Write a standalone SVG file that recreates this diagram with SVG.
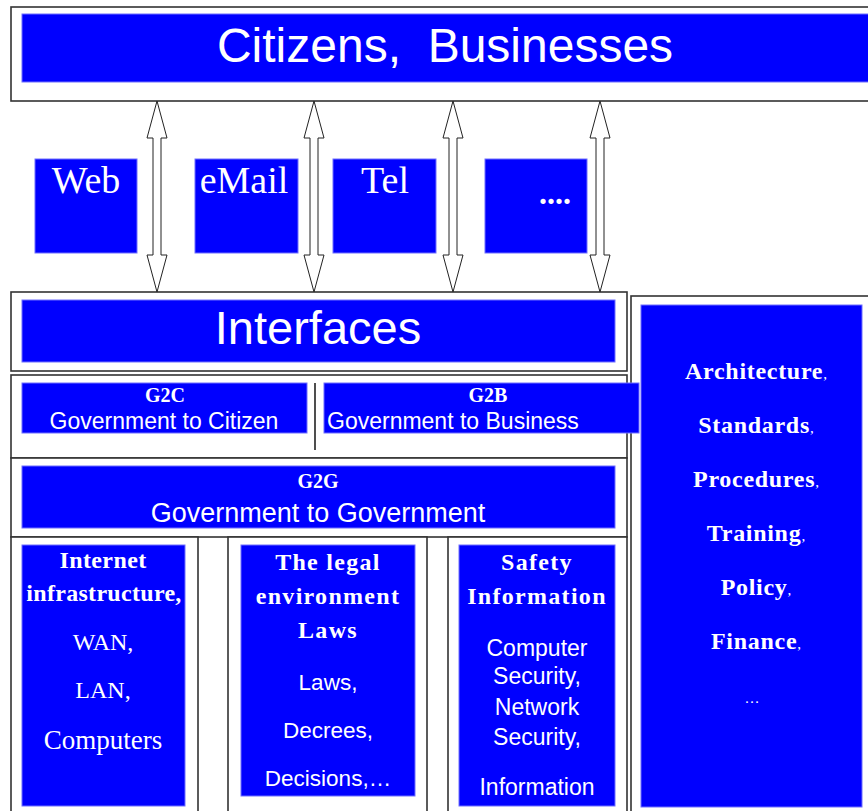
<svg xmlns="http://www.w3.org/2000/svg" xmlns:xlink="http://www.w3.org/1999/xlink" width="868" height="811" viewBox="0 0 868 811">
  <style>
    .frame { fill: #ffffff; stroke: #333333; stroke-width: 1.6; }
    .blue { fill: #0000ff; stroke: #6f6fff; stroke-width: 1; }
    .sans { font-family: "Liberation Sans", Arial, sans-serif; fill: #ffffff; text-anchor: middle; }
    .serif { font-family: "Liberation Serif", "Times New Roman", serif; fill: #ffffff; text-anchor: middle; }
    .bold { font-weight: bold; }
    .start { text-anchor: start; }
    .comma { font-weight: normal; font-size: 15px; letter-spacing: 0; }
    .arrow { fill: #ffffff; stroke: #222222; stroke-width: 1; }
  </style>
  <defs>
    <!-- hollow double-headed arrow, tip-to-tip from y=101 to y=292 -->
    <path id="dbl" d="M0,101 L10,138 L4,138 L4,255 L10,255 L0,292 L-10,255 L-4,255 L-4,138 L-10,138 Z"/>
  </defs>

  <rect width="868" height="811" fill="#ffffff"/>

  <g id="citizens">
    <rect class="frame" x="11" y="7" width="880" height="94"/>
    <rect class="blue" x="22" y="14" width="870" height="68"/>
    <text class="sans" x="445" y="62" font-size="48" xml:space="preserve">Citizens,  Businesses</text>
  </g>

  <g id="web">
    <rect class="blue" x="35" y="159" width="102" height="94"/>
    <text class="serif" x="86" y="193" font-size="38">Web</text>
  </g>
  <g id="email">
    <rect class="blue" x="195" y="159" width="103" height="94"/>
    <text class="serif" x="244" y="193" font-size="38">eMail</text>
  </g>
  <g id="tel">
    <rect class="blue" x="333" y="159" width="103" height="94"/>
    <text class="serif" x="385" y="193" font-size="38">Tel</text>
  </g>
  <g id="other-channels">
    <rect class="blue" x="485" y="159" width="102" height="94"/>
    <text class="serif bold" x="555" y="204" font-size="32">....</text>
  </g>

  <g id="interfaces">
    <rect class="frame" x="11" y="292" width="616" height="79"/>
    <rect class="blue" x="22" y="300" width="593" height="62"/>
    <text class="sans" x="318" y="344" font-size="47">Interfaces</text>
  </g>

  <g id="support">
    <rect class="frame" x="631" y="296" width="260" height="530"/>
    <rect class="blue" x="641" y="305" width="221" height="502"/>
    <g class="serif bold" font-size="24" letter-spacing="0.7">
      <text x="756" y="379">Architecture<tspan class="comma">,</tspan></text>
      <text x="756" y="433">Standards<tspan class="comma">,</tspan></text>
      <text x="756" y="487">Procedures<tspan class="comma">,</tspan></text>
      <text x="756" y="541">Training<tspan class="comma">,</tspan></text>
      <text x="756" y="595">Policy<tspan class="comma">,</tspan></text>
      <text x="756" y="649">Finance<tspan class="comma">,</tspan></text>
      <text x="752" y="703" font-weight="normal" font-size="15" letter-spacing="0">…</text>
    </g>
  </g>

  <g id="g2c-g2b">
    <rect class="frame" x="11" y="375" width="616" height="83"/>
    <line x1="315" y1="383" x2="315" y2="450" stroke="#222222" stroke-width="1.6"/>
  </g>
  <g id="g2c">
    <rect class="blue" x="22" y="383" width="285" height="50"/>
    <text class="serif bold" x="165" y="402" font-size="20">G2C</text>
    <text class="sans" x="164" y="429" font-size="23">Government to Citizen</text>
  </g>
  <g id="g2b">
    <rect class="blue" x="324" y="383" width="315" height="50"/>
    <text class="serif bold" x="488" y="402" font-size="20">G2B</text>
    <text class="sans start" x="327" y="429" font-size="23">Government to Business</text>
  </g>

  <g id="g2g">
    <rect class="frame" x="11" y="458" width="616" height="79"/>
    <rect class="blue" x="22" y="466" width="593" height="62"/>
    <text class="serif bold" x="318" y="488" font-size="20">G2G</text>
    <text class="sans" x="318" y="522" font-size="27">Government to Government</text>
  </g>

  <g id="infrastructure">
    <rect class="frame" x="11" y="537" width="187" height="290"/>
    <rect class="blue" x="22" y="545" width="163" height="261"/>
    <g class="serif">
      <text class="bold" x="103" y="568" font-size="24" letter-spacing="0.4">Internet</text>
      <text class="bold" x="104" y="601" font-size="24" letter-spacing="0.3">infrastructure,</text>
      <text x="103" y="650" font-size="24">WAN,</text>
      <text x="103" y="698" font-size="24">LAN,</text>
      <text x="103" y="749" font-size="27">Computers</text>
    </g>
  </g>

  <g id="legal">
    <rect class="frame" x="228" y="537" width="199" height="290"/>
    <rect class="blue" x="241" y="545" width="174" height="251"/>
    <g class="serif bold" font-size="24" letter-spacing="1.3">
      <text x="328" y="570">The legal</text>
      <text x="328" y="604">environment</text>
      <text x="328" y="638">Laws</text>
    </g>
    <g class="sans" font-size="22.5">
      <text x="328" y="690">Laws,</text>
      <text x="328" y="738">Decrees,</text>
      <text x="328" y="786">Decisions,…</text>
    </g>
  </g>

  <g id="safety">
    <rect class="frame" x="448" y="537" width="179" height="290"/>
    <rect class="blue" x="459" y="545" width="156" height="261"/>
    <g class="serif bold" font-size="24" letter-spacing="1.3">
      <text x="537" y="570">Safety</text>
      <text x="537" y="604">Information</text>
    </g>
    <g class="sans" font-size="23">
      <text x="537" y="656">Computer</text>
      <text x="537" y="684">Security,</text>
      <text x="537" y="715">Network</text>
      <text x="537" y="745">Security,</text>
      <text x="537" y="795">Information</text>
    </g>
  </g>

  <g id="connectors">
    <use xlink:href="#dbl" class="arrow" x="157"/>
    <use xlink:href="#dbl" class="arrow" x="314"/>
    <use xlink:href="#dbl" class="arrow" x="453"/>
    <use xlink:href="#dbl" class="arrow" x="600"/>
  </g>
</svg>
